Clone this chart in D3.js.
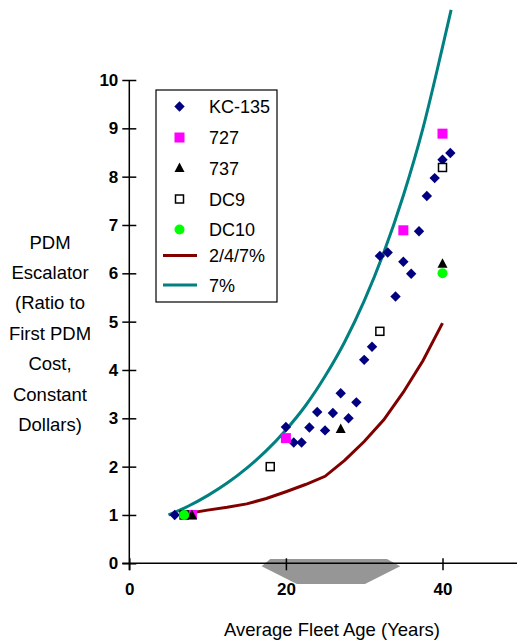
<!DOCTYPE html>
<html>
<head>
<meta charset="utf-8">
<script src="https://cdnjs.cloudflare.com/ajax/libs/d3/7.8.5/d3.min.js"></script>
<style>
  body { margin: 0; background: #fff; }
  svg { display: block; font-family: "Liberation Sans", Arial, sans-serif; }
</style>
</head>
<body>
<div id="chart"></div>
<script>
// Values: [fleet age, escalator]
const kc135 = [[5.8, 1.0], [20, 2.82], [21, 2.5], [22, 2.5], [23, 2.81], [24, 3.13], [25, 2.75],
  [26, 3.11], [27, 3.52], [28, 3.0], [29, 3.33], [30, 4.21], [31, 4.48], [32, 6.36], [33, 6.43],
  [34, 5.52], [35, 6.24], [36, 5.99], [37, 6.87], [38, 7.6], [39, 7.97], [40, 8.35], [41, 8.49]];
const b727 = [[8, 1.0], [20, 2.59], [35, 6.89], [40, 8.89]];
const b737 = [[8, 1.0], [27, 2.78], [40, 6.2]];
const dc9 = [[7, 1.0], [18, 2.0], [32, 4.8], [40, 8.19]];
const dc10 = [[7, 1.0], [40, 6.0]];

// escalation curves
const curve247 = [[7, 1.02], [10, 1.10], [12.5, 1.16], [15, 1.23], [17.5, 1.34], [20, 1.48],
  [22.5, 1.63], [25, 1.80], [27.5, 2.13], [30, 2.52], [32.5, 2.97], [35, 3.54], [37.5, 4.19], [40, 4.97]];
const curve7 = [[5, 1.0], [7.5, 1.18], [10, 1.40], [12.5, 1.66], [15, 1.97], [17.5, 2.33], [20, 2.76],
  [22.5, 3.26], [25, 3.87], [27.5, 4.58], [30, 5.43], [32.5, 6.43], [35, 7.61], [37.5, 9.0],
  [40, 10.68], [41.1, 11.45]];

// grey band under the axis (fleet age spread)
const ageBand = [[16.9, -0.06], [18.0, 0.09], [32.9, 0.09], [34.6, -0.06], [30.1, -0.43], [21.4, -0.43]];

const xTicks = [0, 20, 40];
const yTicks = [0, 1, 2, 3, 4, 5, 6, 7, 8, 9, 10];
const yLabelLines = ["PDM", "Escalator", "(Ratio to", "First PDM", "Cost,", "Constant", "Dollars)"];

const width = 517, height = 640;
const svg = d3.select('#chart').append('svg')
  .attr('width', width)
  .attr('height', height);

const x = d3.scaleLinear().domain([0, 50]).range([129.3, 520.8]);
const y = d3.scaleLinear().domain([0, 10]).range([563.3, 80]);

// grey band first so the axis sits over it
svg.append('polygon')
  .attr('points', ageBand.map(d => [x(d[0]), y(d[1])].join(',')).join(' '))
  .attr('fill', '#969696');

// axes
const yAxis = svg.append('g')
  .attr('transform', `translate(${x(0)},0)`)
  .call(d3.axisLeft(y).tickValues(yTicks).tickFormat(d3.format('d')).tickSize(7));
yAxis.select('.domain').remove();
yAxis.selectAll('.tick line').attr('x1', 7).attr('x2', -7).attr('stroke-width', 1.5);
yAxis.selectAll('.tick text')
  .attr('x', -11)
  .attr('font-size', '17px')
  .attr('font-weight', 'bold')
  .attr('font-family', '"Liberation Sans", Arial, sans-serif');

const xAxis = svg.append('g')
  .attr('transform', `translate(0,${y(0)})`)
  .call(d3.axisBottom(x).tickValues(xTicks).tickFormat(d3.format('d')).tickSize(7));
xAxis.select('.domain').remove();
xAxis.selectAll('.tick line').attr('y1', -5).attr('y2', 7).attr('stroke-width', 1.5);
xAxis.selectAll('.tick text')
  .attr('y', 20)
  .attr('font-size', '17px')
  .attr('font-weight', 'bold')
  .attr('font-family', '"Liberation Sans", Arial, sans-serif');

svg.append('line')
  .attr('x1', x(0)).attr('x2', x(0))
  .attr('y1', y(10)).attr('y2', y(0) + 7)
  .attr('stroke', '#000').attr('stroke-width', 1.5);
svg.append('line')
  .attr('x1', x(0) - 7).attr('x2', width)
  .attr('y1', y(0)).attr('y2', y(0))
  .attr('stroke', '#000').attr('stroke-width', 1.5);

// axis titles
svg.append('text')
  .attr('x', 332).attr('y', 636)
  .attr('text-anchor', 'middle')
  .attr('font-size', '18.5px')
  .text('Average Fleet Age (Years)');

svg.append('g').selectAll('text')
  .data(yLabelLines)
  .enter()
  .append('text')
  .attr('x', 50)
  .attr('y', (d, i) => 248.5 + i * 30.4)
  .attr('text-anchor', 'middle')
  .attr('font-size', '18.5px')
  .text(d => d);

// curves
const line = d3.line().x(d => x(d[0])).y(d => y(d[1]));
svg.append('path')
  .attr('d', line.curve(d3.curveMonotoneX)(curve7))
  .attr('fill', 'none').attr('stroke', '#008080').attr('stroke-width', 3);
svg.append('path')
  .attr('d', line.curve(d3.curveLinear)(curve247))
  .attr('fill', 'none').attr('stroke', '#800000').attr('stroke-width', 3);

// marker drawers
const markers = {
  diamond: (g) => g.append('path').attr('d', 'M0,-5.2L5.2,0L0,5.2L-5.2,0Z')
    .attr('fill', '#000080'),
  square: (g) => g.append('rect').attr('x', -5).attr('y', -5).attr('width', 10).attr('height', 10)
    .attr('fill', '#ff00ff'),
  triangle: (g) => g.append('path').attr('d', 'M0,-5.5L5,4L-5,4Z').attr('fill', '#000'),
  open: (g) => g.append('rect').attr('x', -4).attr('y', -4).attr('width', 8).attr('height', 8)
    .attr('fill', '#fff').attr('stroke', '#000').attr('stroke-width', 1.5),
  circle: (g) => g.append('circle').attr('r', 5).attr('fill', '#00ff00')
};

function drawSeries(data, kind) {
  const g = svg.append('g');
  data.forEach(d => {
    const m = g.append('g').attr('transform', `translate(${x(d[0])},${y(d[1])})`);
    markers[kind](m);
  });
}

drawSeries(kc135, 'diamond');
drawSeries(b727, 'square');
drawSeries(b737, 'triangle');
drawSeries(dc9, 'open');
drawSeries(dc10, 'circle');

// legend
const legend = svg.append('g');
legend.append('rect')
  .attr('x', 156).attr('y', 90).attr('width', 121).attr('height', 212)
  .attr('fill', '#fff').attr('stroke', '#000').attr('stroke-width', 1.2);

const legendItems = [
  { label: 'KC-135', kind: 'diamond', y: 106.5 },
  { label: '727', kind: 'square', y: 137.5 },
  { label: '737', kind: 'triangle', y: 168 },
  { label: 'DC9', kind: 'open', y: 199 },
  { label: 'DC10', kind: 'circle', y: 229.5 },
  { label: '2/4/7%', line: '#800000', y: 255.5 },
  { label: '7%', line: '#008080', y: 285 }
];

legendItems.forEach(item => {
  if (item.kind) {
    const m = legend.append('g').attr('transform', `translate(179.5,${item.y})`);
    markers[item.kind](m);
  } else {
    legend.append('line')
      .attr('x1', 163).attr('x2', 197)
      .attr('y1', item.y).attr('y2', item.y)
      .attr('stroke', item.line).attr('stroke-width', 3);
  }
  legend.append('text')
    .attr('x', 209).attr('y', item.y + 6.5)
    .attr('font-size', '18px')
    .text(item.label);
});
</script>
</body>
</html>
